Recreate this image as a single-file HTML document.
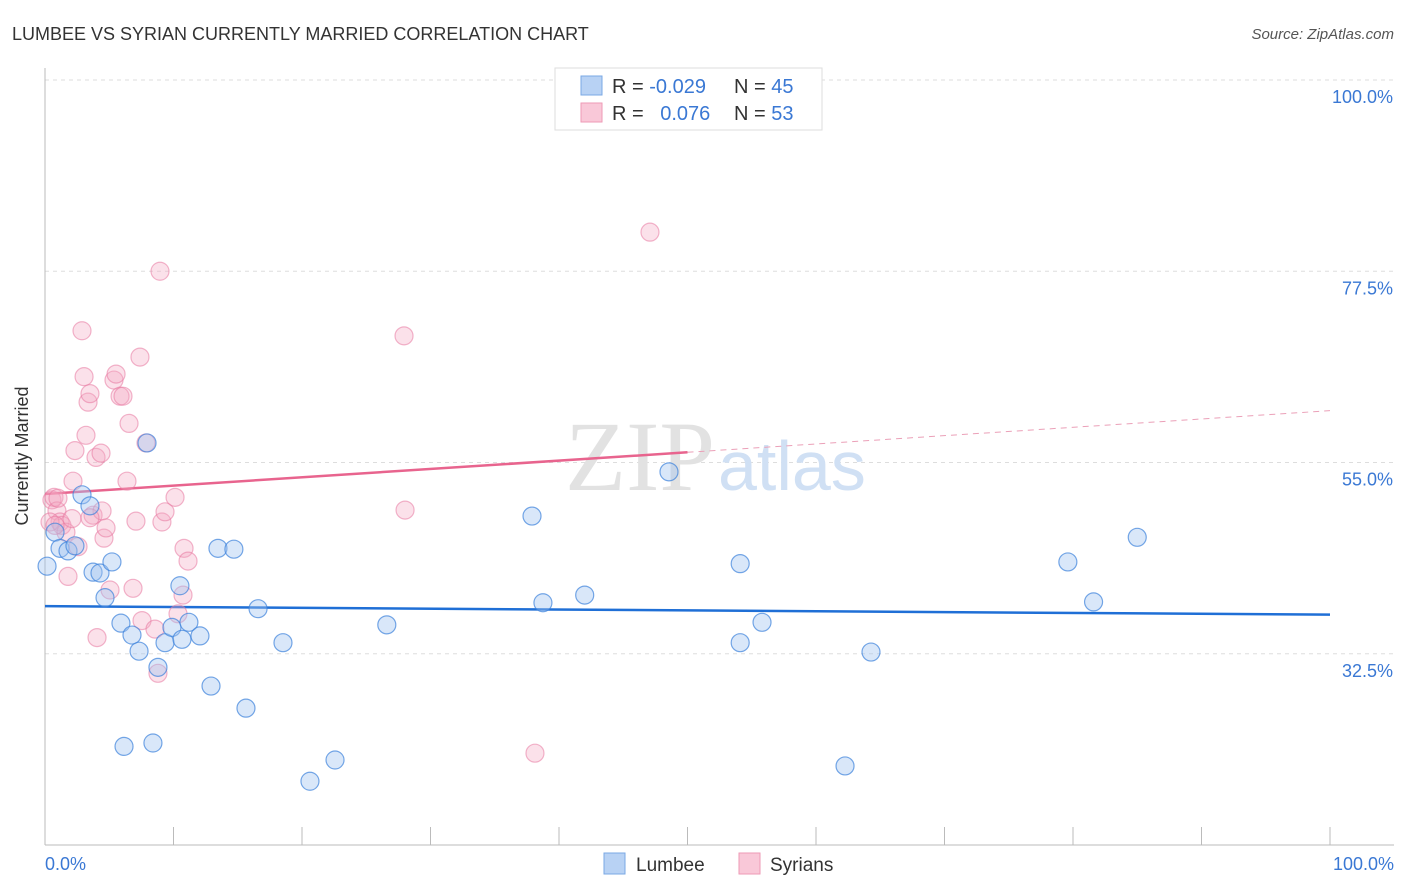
<!DOCTYPE html>
<html><head><meta charset="utf-8"><style>
body{margin:0;background:#fff;font-family:"Liberation Sans",sans-serif;}
svg{display:block}
</style></head><body>
<svg id="chart" width="1406" height="892" xmlns="http://www.w3.org/2000/svg">
<text x="12" y="40" font-size="18" fill="#333">LUMBEE VS SYRIAN CURRENTLY MARRIED CORRELATION CHART</text>
<text x="1394" y="39" font-size="15" fill="#555" font-style="italic" text-anchor="end">Source: ZipAtlas.com</text>
<g id="grid"></g>
<text x="715" y="490" font-size="100" fill="#e2e2e2" text-anchor="end" font-family="Liberation Serif,serif">ZIP</text>
<text x="718" y="490" font-size="70" fill="#d0e0f4">atlas</text>
<line x1="45" y1="68" x2="45" y2="845" stroke="#bbb"/>
<line x1="45" y1="845" x2="1394" y2="845" stroke="#bbb"/>
<g id="ticks"></g>
<g id="lines"></g>
<g id="points"></g>
<text x="28" y="456" font-size="18" fill="#333" text-anchor="middle" transform="rotate(-90 28 456)">Currently Married</text>
<text x="45" y="870" font-size="18" fill="#3a78d4">0.0%</text>
<text x="1394" y="870" font-size="18" fill="#3a78d4" text-anchor="end">100.0%</text>
<g>
<rect x="555" y="68" width="267" height="62" fill="#fff" stroke="#ddd"/>
<rect x="581" y="76" width="21" height="19" fill="#b8d2f4" stroke="#7aa8e4"/>
<rect x="581" y="103" width="21" height="19" fill="#f9c8d8" stroke="#ee9ab6"/>
<text x="612" y="93" font-size="20" fill="#333">R = <tspan fill="#3a78d4">-0.029</tspan></text>
<text x="734" y="93" font-size="20" fill="#333">N = <tspan fill="#3a78d4">45</tspan></text>
<text x="612" y="120" font-size="20" fill="#333">R = <tspan fill="#3a78d4" dx="11">0.076</tspan></text>
<text x="734" y="120" font-size="20" fill="#333">N = <tspan fill="#3a78d4">53</tspan></text>
</g>
<g>
<rect x="604" y="853" width="21" height="21" fill="#b8d2f4" stroke="#7aa8e4"/>
<text x="636" y="871" font-size="19" fill="#333">Lumbee</text></g>
<g>
<rect x="739" y="853" width="21" height="21" fill="#f9c8d8" stroke="#ee9ab6"/>
<text x="770" y="871" font-size="19" fill="#333">Syrians</text></g>
</svg>
<script>
const yTicks=[100,77.5,55,32.5];
const yTickLabels=["100.0%","77.5%","55.0%","32.5%"];
const xTicks=[0,10,20,30,40,50,60,70,80,90,100];
const lumbeeX=[0.16,0.78,1.17,1.79,2.33,2.88,3.5,3.74,4.28,4.67,5.21,5.91,6.15,6.77,7.32,7.94,8.4,8.79,9.34,9.88,10.5,10.66,11.2,12.06,12.92,13.46,14.7,15.64,16.58,18.52,20.62,22.57,26.6,37.9,38.75,42.0,48.56,54.1,54.1,55.8,62.26,64.28,79.6,81.6,85.0];
const lumbeeY=[42.8,46.8,44.9,44.6,45.2,51.2,49.9,42.1,42.0,39.1,43.3,36.1,21.6,34.7,32.8,57.3,22.0,30.9,33.8,35.6,40.5,34.2,36.2,34.6,28.7,44.9,44.8,26.1,37.8,33.8,17.5,20.0,35.9,48.7,38.5,39.4,53.9,43.1,33.8,36.2,19.3,32.7,43.3,38.6,46.2];
const syrX=[0.54,0.70,0.93,1.17,1.32,1.63,1.79,2.1,2.33,2.18,2.57,2.88,3.04,3.19,3.35,3.5,3.74,3.97,4.05,4.36,4.44,4.59,4.75,5.06,5.37,5.53,5.84,6.07,6.54,6.38,6.85,7.08,7.39,7.55,7.86,8.56,8.95,9.1,9.34,10.12,10.35,10.74,10.82,11.13,27.94,28.02,38.13,47.08,0.39,0.78,1.01,3.5,8.79];
const syrY=[50.6,50.9,49.3,48.0,47.6,46.8,41.6,48.4,56.4,52.8,45.1,70.5,65.1,58.2,62.1,63.1,48.8,55.6,34.4,56.1,49.3,46.1,47.3,40.0,64.7,65.4,62.8,62.8,59.6,52.8,40.2,48.1,67.4,36.4,57.3,35.4,77.5,48.0,49.2,50.9,37.2,39.4,44.9,43.4,69.9,49.4,20.8,82.1,48.0,47.6,50.8,48.5,30.2];
const lumbeeTrend=[38.1,37.1];
const syrTrend=[51.3,61.1];
const NS="http://www.w3.org/2000/svg";
const xs=v=>45+v*12.85;
const ys=v=>80+(100-v)*8.5;
function mk(tag,attrs,parent){const e=document.createElementNS(NS,tag);for(const k in attrs)e.setAttribute(k,attrs[k]);document.getElementById(parent).appendChild(e);return e;}
yTicks.forEach((t,i)=>{
 const l=mk('line',{x1:45,x2:1394,y1:ys(t),y2:ys(t),stroke:'#ddd','stroke-dasharray':'4 4'},'grid');
 
 
 const tx=mk('text',{x:1393,y:ys(t)+23,'font-size':18,fill:'#3a78d4','text-anchor':'end'},'grid');
 tx.textContent=yTickLabels[i];
 
 
});
xTicks.forEach(t=>{
 const l=mk('line',{x1:xs(t),x2:xs(t),y1:827,y2:845,stroke:'#bbb'},'ticks');
 
 
});
const bl=mk('line',{x1:xs(0),y1:ys(lumbeeTrend[0]),x2:xs(100),y2:ys(lumbeeTrend[1]),stroke:'#1f6fd6','stroke-width':2.5},'lines');


const sm=(syrTrend[0]+syrTrend[1])/2;
const pl=mk('line',{x1:xs(0),y1:ys(syrTrend[0]),x2:xs(50),y2:ys(sm),stroke:'#e8648e','stroke-width':2.5},'lines');


const pd=mk('line',{x1:xs(50),y1:ys(sm),x2:xs(100),y2:ys(syrTrend[1]),stroke:'#eba0b8','stroke-width':1,'stroke-dasharray':'6 5'},'lines');


syrX.forEach((x,i)=>{
 const c=mk('circle',{cx:xs(x),cy:ys(syrY[i]),r:9,fill:'rgba(244,168,196,0.35)',stroke:'rgba(232,120,160,0.55)','stroke-width':1.2},'points');
 
 
});
lumbeeX.forEach((x,i)=>{
 const c=mk('circle',{cx:xs(x),cy:ys(lumbeeY[i]),r:9,fill:'rgba(160,196,240,0.4)',stroke:'rgba(60,130,220,0.7)','stroke-width':1.2},'points');
 
 
});
</script>
</body></html>
